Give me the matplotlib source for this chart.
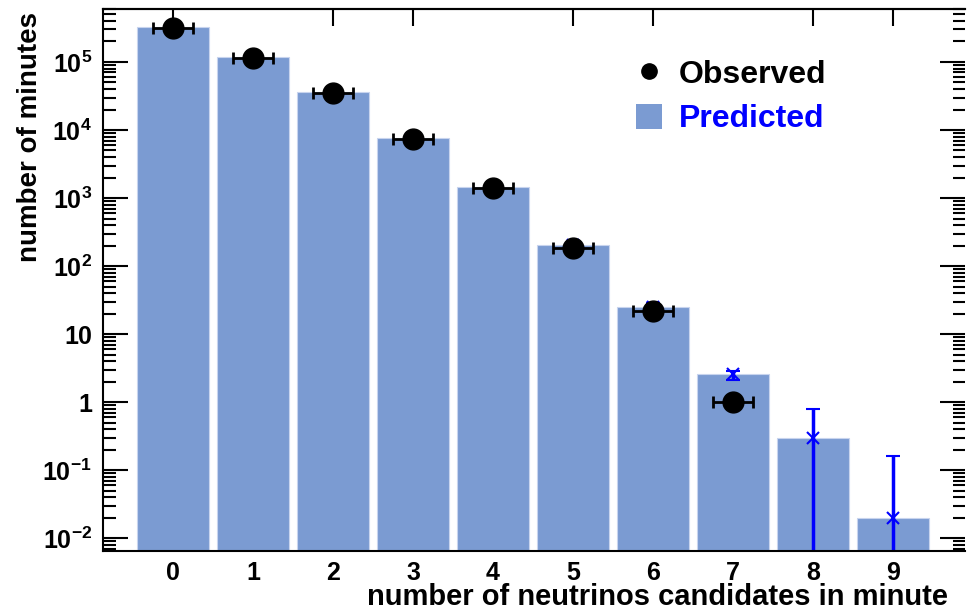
import numpy as np
import matplotlib.pyplot as plt
from matplotlib.lines import Line2D
from matplotlib.patches import Patch

plt.rcParams["font.family"] = ["Liberation Sans", "DejaVu Sans"]
plt.rcParams["font.weight"] = "bold"
plt.rcParams["mathtext.fontset"] = "custom"
plt.rcParams["mathtext.rm"] = "Liberation Sans:bold"
plt.rcParams["mathtext.bf"] = "Liberation Sans:bold"

# Data
n_cand = np.arange(10)
predicted = [3.3e5, 1.18e5, 3.6e4, 7.6e3, 1.45e3, 205, 25, 2.6, 0.30, 0.020]
pred_err_lo = [1e3, 500, 300, 150, 60, 15, 4, 0.5, 0.30, 0.020]
pred_err_hi = [1e3, 500, 300, 150, 60, 15, 4, 0.3, 0.5, 0.14]

obs_x = np.arange(8)
observed = [3.2e5, 1.15e5, 3.5e4, 7.4e3, 1.4e3, 185, 22, 1.0]
obs_yerr = [570, 340, 190, 86, 37, 14, 4.7, 0.1]
obs_xerr = 0.25

top_ticks = [0, 2, 3, 5, 6, 8, 9]
y_ticks = [1e5, 1e4, 1e3, 1e2, 10, 1, 0.1, 0.01]
y_labels = [r"$10^{5}$", r"$10^{4}$", r"$10^{3}$", r"$10^{2}$", "10", "1",
            r"$10^{-1}$", r"$10^{-2}$"]

bar_color = "#7b9bd2"

fig = plt.figure(figsize=(9.73, 6.11), dpi=100)
ax = fig.add_axes([103 / 973, 1 - 551 / 611, 862 / 973, 542 / 611])

ax.bar(n_cand, predicted, width=0.9, color=bar_color, edgecolor="#c8d4ee",
       linewidth=0.8, zorder=1)
ax.errorbar(n_cand, predicted, yerr=[pred_err_lo, pred_err_hi], fmt="x",
            color="blue", ms=8, mew=1.5, elinewidth=2.5, capsize=5,
            capthick=2, zorder=2)
ax.errorbar(obs_x, observed, xerr=obs_xerr, yerr=obs_yerr, fmt="o",
            color="black", ms=15, elinewidth=2, capsize=4, capthick=2,
            zorder=3)

ax.set_yscale("log")
ax.set_ylim(0.0065, 6e5)
ax.set_xlim(-0.875, 9.9)

ax.set_yticks(y_ticks)
ax.set_yticklabels(y_labels)
ax.set_xticks(n_cand)
ax.tick_params(axis="y", which="major", direction="in", length=18, width=1.5,
               labelsize=18, right=True, pad=8)
ax.tick_params(axis="y", which="minor", direction="in", length=9, width=1.5,
               right=True)
ax.tick_params(axis="x", which="both", length=0, labelsize=18, pad=7)

top = ax.secondary_xaxis("top")
top.set_xticks(top_ticks)
top.set_xticklabels([])
top.tick_params(direction="in", length=12, width=1.5)

for side in ["left", "bottom", "top"]:
    ax.spines[side].set_linewidth(1.5)
top.spines["top"].set_linewidth(1.5)
ax.spines["right"].set_visible(False)

fig.text(948 / 973, 1 - 597 / 611, "number of neutrinos candidates in minute",
         ha="right", va="center", fontsize=21, fontweight="bold")
fig.text(30 / 973, 1 - 12 / 611, "number of minutes", rotation=90,
         ha="center", va="top", fontsize=20, fontweight="bold")

handles = [Line2D([], [], marker="o", ls="none", color="black", ms=11),
           Patch(facecolor=bar_color)]
leg = ax.legend(handles, ["Observed", "Predicted"], loc="upper left",
                bbox_to_anchor=(0.585, 0.96), frameon=False, fontsize=23,
                handlelength=0.8, handletextpad=0.55, labelspacing=0.45,
                handleheight=0.8)
leg.get_texts()[1].set_color("blue")

fig.savefig("out.png", dpi=100)
